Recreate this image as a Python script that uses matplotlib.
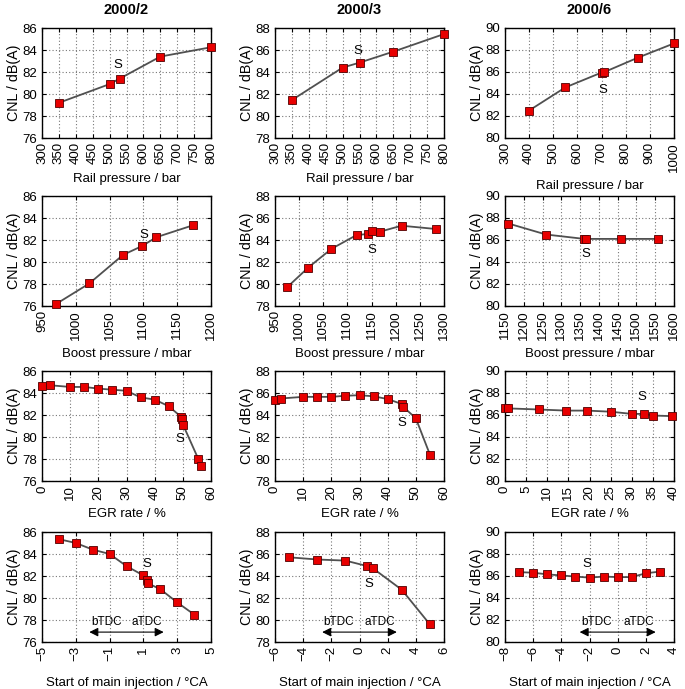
import matplotlib
matplotlib.use("Agg")
import matplotlib.pyplot as plt
import numpy as np

plt.rcParams['font.family'] = ['Liberation Sans', 'DejaVu Sans']

titles = ["2000/2", "2000/3", "2000/6"]
xlabels = ["Rail pressure / bar", "Boost pressure / mbar", "EGR rate / %",
           "Start of main injection / °CA"]

# row 1: rail pressure
rail_x = [[350, 500, 530, 650, 800],
          [350, 500, 550, 650, 800],
          [400, 550, 700, 712, 850, 1000]]
rail_y = [[79.2, 80.9, 81.4, 83.4, 84.25],
          [81.45, 84.4, 84.85, 85.85, 87.45],
          [82.5, 84.6, 85.95, 86.0, 87.3, 88.6]]

# row 2: boost pressure
boost_x = [[970, 1020, 1070, 1098, 1119, 1174],
           [975, 1019, 1067, 1119, 1143, 1150, 1167, 1212, 1283],
           [1159, 1259, 1361, 1365, 1458, 1558]]
boost_y = [[76.15, 78.05, 80.65, 81.45, 82.25, 83.35],
           [79.7, 81.5, 83.2, 84.45, 84.55, 84.8, 84.75, 85.3, 85.0],
           [87.5, 86.5, 86.1, 86.1, 86.1, 86.1]]

# row 3: EGR rate
egr_x = [[0, 3, 10, 15, 20, 25, 30, 35, 40, 45, 49.3, 49.8, 50.1, 55.5, 56.3],
         [0, 2, 10, 15, 20, 25, 30, 35, 40, 45, 45.5, 50, 55],
         [0, 0.8, 8, 14.5, 19.5, 25, 30, 33, 35, 39.5]]
egr_y = [[84.6, 84.7, 84.55, 84.55, 84.4, 84.3, 84.2, 83.6, 83.4, 82.8, 81.85, 81.6, 81.1, 78.0, 77.4],
         [85.4, 85.5, 85.65, 85.65, 85.65, 85.75, 85.8, 85.7, 85.45, 85.0, 84.75, 83.7, 80.4],
         [86.6, 86.6, 86.5, 86.4, 86.4, 86.3, 86.1, 86.1, 85.95, 85.9]]

# row 4: start of main injection
soi_x = [[-4, -3, -2, -1, 0, 1, 1.2, 1.25, 2, 3, 4],
         [-5, -3, -1, 0.55, 0.95, 3, 5],
         [-7, -6, -5, -4, -3, -2, -1, 0, 1, 2, 3]]
soi_y = [[85.35, 85.0, 84.4, 84.0, 82.9, 82.05, 81.6, 81.35, 80.8, 79.6, 78.5],
         [85.7, 85.5, 85.4, 84.9, 84.7, 82.75, 79.6],
         [86.35, 86.3, 86.15, 86.05, 85.95, 85.85, 85.95, 85.9, 85.9, 86.25, 86.4]]

xs = [rail_x, boost_x, egr_x, soi_x]
ys = [rail_y, boost_y, egr_y, soi_y]

xlims = [[(300, 800), (300, 800), (300, 1000)],
         [(950, 1200), (950, 1300), (1150, 1600)],
         [(0, 60), (0, 60), (0, 40)],
         [(-5, 5), (-6, 6), (-8, 4)]]
xsteps = [[50, 50, 100], [50, 50, 50], [10, 10, 5], [2, 2, 2]]
ylims = [(76, 86), (78, 88), (80, 90)]

# position of the "S" label
s_pos = [[(524, 82.6), (545, 85.9), (705, 84.4)],
         [(1100, 82.5), (1150, 83.1), (1364, 84.7)],
         [(48.9, 79.8), (44.9, 83.3), (32.5, 87.6)],
         [(1.18, 83.05), (0.63, 83.3), (-2.2, 87.05)]]

# bTDC / aTDC arrow in bottom row
arrow_y = [76.9, 78.9, 80.9]
arrow_x = [(-2.2, 2.2), (-2.65, 2.65), (-2.7, 2.7)]

fig = plt.figure(figsize=(6.85, 6.89), dpi=100)
W, H = 685, 689
col_left = [42, 275, 505]
ax_w = 169
row_top = [28, 196, 371, 532]
ax_h = 110
lpads = [6, 6, 6, 11]

for r in range(4):
    for c in range(3):
        ax = fig.add_axes([col_left[c] / W, 1 - (row_top[r] + ax_h) / H, ax_w / W, ax_h / H])
        ax.plot(xs[r][c], ys[r][c], '-', color='#505050', lw=1.3, zorder=3)
        ax.plot(xs[r][c], ys[r][c], 's', color='#e80000', mec='#500000', mew=0.6,
                ms=5.5, zorder=4, clip_on=False)
        x0, x1 = xlims[r][c]
        ax.set_xlim(x0, x1)
        ax.set_xticks(np.arange(x0, x1 + 0.01, xsteps[r][c]))
        ax.set_ylim(*ylims[c])
        ax.set_yticks(np.arange(ylims[c][0], ylims[c][1] + 0.01, 2))
        ax.grid(True, color='#777777', lw=0.8, linestyle=(0, (1, 2)))
        ax.tick_params(direction='in', length=3, labelsize=9.5, top=True, right=True)
        ax.tick_params(axis='x', labelrotation=90, pad=3)
        for sp in ax.spines.values():
            sp.set_linewidth(1.0)
        ax.set_ylabel("CNL / dB(A)", fontsize=10.3, labelpad=1)
        ax.set_xlabel(xlabels[r], fontsize=9.5, labelpad=lpads[r])
        sx, sy = s_pos[r][c]
        ax.text(sx, sy, "S", fontsize=9.5, ha='center', va='center', zorder=5)
        if r == 0:
            ax.set_title(titles[c], fontsize=10.5, fontweight='bold', pad=10)
        if r == 3:
            a0, a1 = arrow_x[c]
            ay = arrow_y[c]
            ax.annotate("", xy=(a0, ay), xytext=(a1, ay),
                        arrowprops=dict(arrowstyle='<|-|>', color='black', lw=0.8,
                                        mutation_scale=13, shrinkA=0, shrinkB=0))
            ax.text(a0 + 0.1, ay + 0.95, "bTDC", fontsize=8.5, ha='left', va='center')
            ax.text(a1 - 0.1, ay + 0.95, "aTDC", fontsize=8.5, ha='right', va='center')

fig.savefig("out.png", dpi=100)
